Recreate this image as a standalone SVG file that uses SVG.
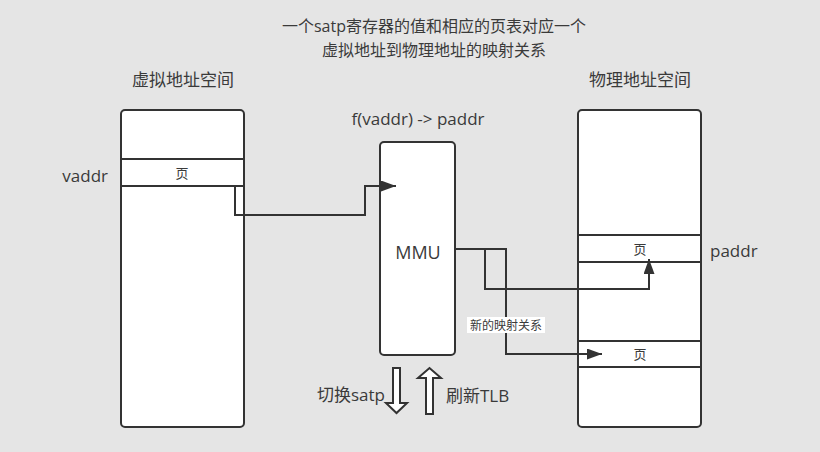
<svg xmlns="http://www.w3.org/2000/svg" width="820" height="452" viewBox="0 0 820 452">
<defs>
<marker id="ah" markerWidth="16" markerHeight="12" refX="15" refY="5.5" orient="auto" markerUnits="userSpaceOnUse">
<path d="M0,0 L15,5.5 L0,11 Z" fill="#333"/>
</marker>
<style>
text{font-family:"Open Sans","Noto Sans CJK SC",sans-serif;fill:#3a3a3a;}
.lbl{font-size:17px;}
.pg{font-size:13px;text-anchor:middle;font-family:"Noto Sans CJK SC",sans-serif;}
.box{fill:#fff;stroke:#333;stroke-width:2;}
.div{stroke:#333;stroke-width:2;}
.con{fill:none;stroke:#333;stroke-width:2;}
</style>
</defs>
<rect width="820" height="452" fill="#e5e5e5"/>
<g id="title">
<text x="434" y="32" font-size="16" text-anchor="middle">一个satp寄存器的值和相应的页表对应一个</text>
<text x="434" y="56" font-size="16" text-anchor="middle">虚拟地址到物理地址的映射关系</text>
</g>
<g id="vspace">
<text x="183" y="86" class="lbl" text-anchor="middle">虚拟地址空间</text>
<rect x="121" y="110" width="123" height="317" rx="4" class="box"/>
<line x1="121" y1="159" x2="244" y2="159" class="div"/>
<line x1="121" y1="186" x2="244" y2="186" class="div"/>
<text x="182" y="178" class="pg">页</text>
<text x="108" y="182" class="lbl" text-anchor="end">vaddr</text>
</g>
<g id="mmu">
<text x="418" y="125" class="lbl" text-anchor="middle">f(vaddr) -&gt; paddr</text>
<rect x="380" y="142" width="75" height="213" rx="4" class="box"/>
<text x="418" y="259" font-size="18" text-anchor="middle">MMU</text>
</g>
<g id="pspace">
<text x="640" y="86" class="lbl" text-anchor="middle">物理地址空间</text>
<rect x="578" y="110" width="123" height="317" rx="4" class="box"/>
<line x1="578" y1="235" x2="701" y2="235" class="div"/>
<line x1="578" y1="262" x2="701" y2="262" class="div"/>
<line x1="578" y1="341" x2="701" y2="341" class="div"/>
<line x1="578" y1="367" x2="701" y2="367" class="div"/>
<text x="640" y="254" class="pg">页</text>
<text x="640" y="359" class="pg">页</text>
<text x="710" y="257" class="lbl">paddr</text>
</g>
<g id="connectors">
<polyline points="235,186 235,215 365,215 365,186 396,186" class="con" marker-end="url(#ah)"/>
<polyline points="455,249 485,249 485,289 649,289 649,259" class="con" marker-end="url(#ah)"/>
<polyline points="455,249 506,249 506,354 602,354" class="con" marker-end="url(#ah)"/>
<rect x="467" y="317" width="78" height="16" fill="#fff"/>
<text x="506" y="330" font-size="12" text-anchor="middle">新的映射关系</text>
</g>
<g id="switch">
<path d="M393,368 H400 V403 H407 L396.5,413 L386,403 H393 Z" fill="#fff" stroke="#333" stroke-width="2"/>
<text x="385" y="401" class="lbl" text-anchor="end">切换satp</text>
</g>
<g id="flush">
<path d="M426,414 V378 H418 L429.5,368 L441,378 H433 V414 Z" fill="#fff" stroke="#333" stroke-width="2"/>
<text x="446" y="402" class="lbl">刷新TLB</text>
</g>
</svg>
